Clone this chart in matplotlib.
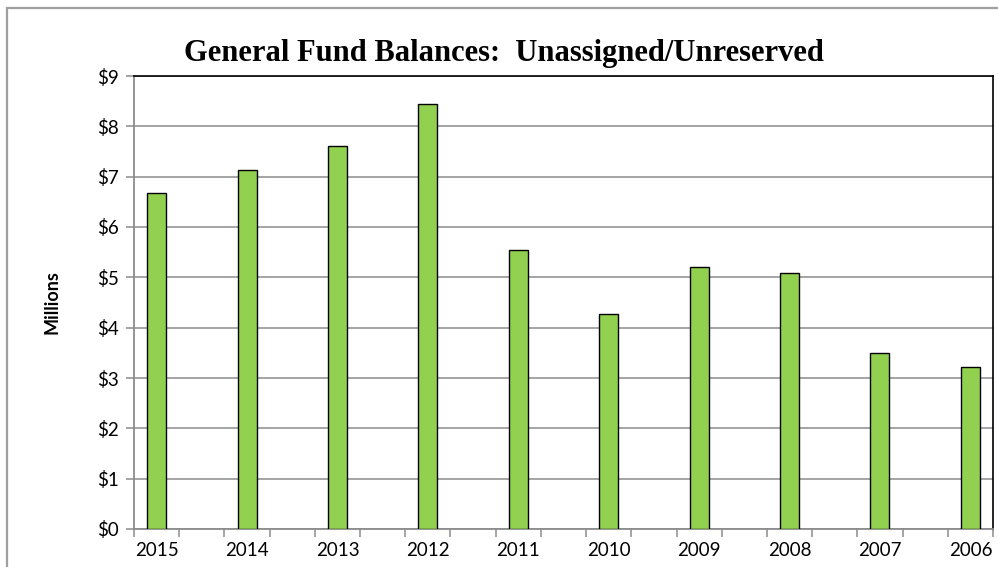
import matplotlib
matplotlib.use('Agg')

import numpy as np
import matplotlib.pyplot as plt
from matplotlib.patches import Rectangle
from matplotlib.ticker import FuncFormatter, FixedLocator

# data (millions of dollars)
years = ['2015', '2014', '2013', '2012', '2011', '2010', '2009', '2008', '2007', '2006']
balances = [6.67, 7.14, 7.60, 8.44, 5.55, 4.28, 5.21, 5.08, 3.49, 3.22]
y_ticks = [0, 1, 2, 3, 4, 5, 6, 7, 8, 9]

plt.rcParams['font.family'] = ['Lato', 'DejaVu Sans']

fig = plt.figure(figsize=(9.98, 5.67), dpi=100)
ax = fig.add_axes([134 / 998, 1 - 529 / 567, (993 - 134) / 998, (529 - 76) / 567])

# every category sits on every other slot (blank slots between them)
pos = np.arange(len(years)) * 2
ax.bar(pos, balances, width=0.42, color='#92D050', edgecolor='black',
       linewidth=1.0, zorder=3)

ax.set_xlim(-0.5, 2 * len(years) - 1.5)
ax.set_ylim(0, 9)

grid_c = '#8c8c8c'
ax.set_yticks(y_ticks)
ax.yaxis.set_major_formatter(FuncFormatter(lambda v, p: '$%d' % v))
ax.yaxis.grid(True, color=grid_c, linewidth=1.1, zorder=0)
ax.set_axisbelow(True)

ax.set_xticks(pos)
ax.set_xticklabels(years)
ax.xaxis.set_minor_locator(FixedLocator(np.arange(-0.5, 2 * len(years) - 1, 1)))
ax.tick_params(axis='x', which='major', length=0, pad=9, labelsize=13.5)
ax.tick_params(axis='x', which='minor', length=6, color=grid_c, width=1.1)
ax.tick_params(axis='y', length=6, color=grid_c, width=1.1, pad=5, labelsize=13.5)

for s in ['left', 'bottom']:
    ax.spines[s].set_color(grid_c)
    ax.spines[s].set_linewidth(1.3)
for s in ['top', 'right']:
    ax.spines[s].set_color('black')
    ax.spines[s].set_linewidth(1.2)

ax.set_ylabel('Millions', fontsize=13, fontweight='bold', labelpad=26)

fig.text(504 / 998, 1 - 53 / 567, 'General Fund Balances:  Unassigned/Unreserved',
         ha='center', va='center', fontsize=22, fontweight='bold',
         family=['Liberation Serif', 'DejaVu Serif'])

# outer chart border (cut off on the right and bottom)
fig.patches.append(Rectangle((7 / 998, -0.1), 1.2, 1 - 8 / 567 + 0.1,
                             transform=fig.transFigure, fill=False,
                             edgecolor='#a0a0a0', linewidth=1.6, zorder=0))

fig.savefig('out.png', dpi=100)
